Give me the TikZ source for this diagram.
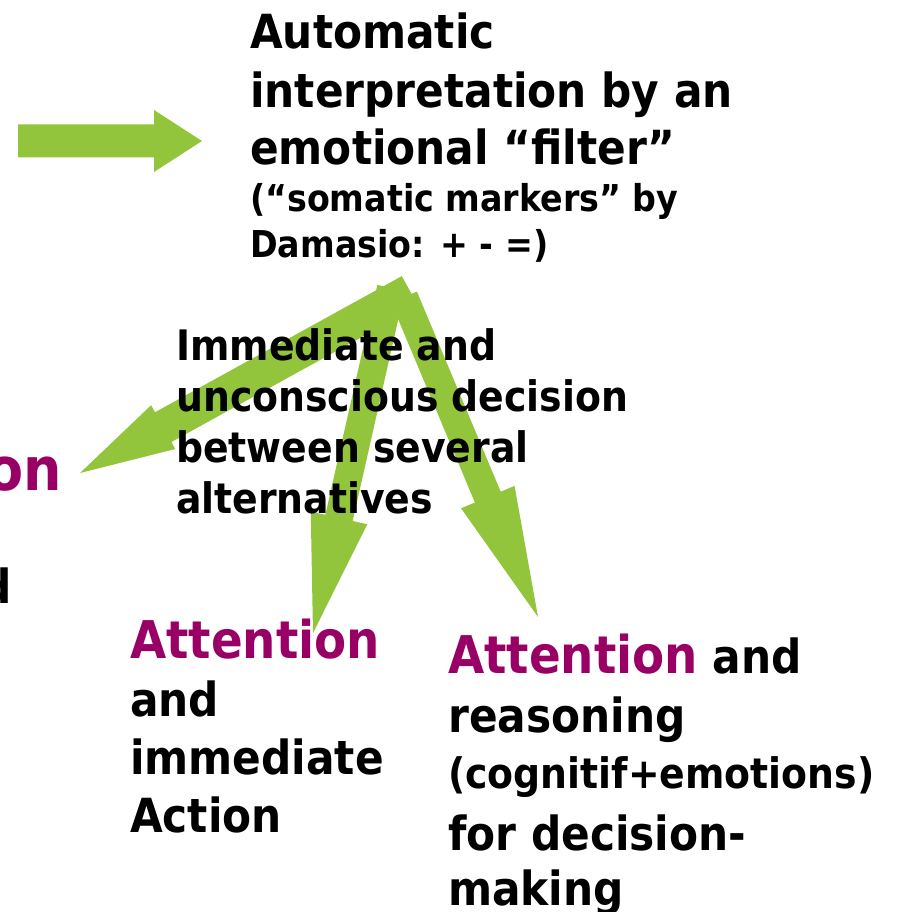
\documentclass[tikz,border=0pt]{standalone}
\usepackage{fontspec}
\setmainfont{DejaVu Sans Condensed}[BoldFont={DejaVu Sans Condensed Bold}]
\usetikzlibrary{calc}

\definecolor{leafgreen}{RGB}{146,196,60}
\definecolor{plum}{RGB}{153,0,102}

% highlighted keyword, a bit larger than the body text
\newcommand\attn[1]{{\color{plum}\fontsize{52}{58}\selectfont #1}}

% anchored at the baseline of the last line
\tikzset{
  label/.style={inner sep=0pt, align=left, anchor=base west},
  big/.style={font=\bfseries\fontsize{47}{58}\selectfont},
  mid/.style={font=\bfseries\fontsize{42}{51}\selectfont},
  small/.style={font=\bfseries\fontsize{37}{46}\selectfont},
}

\begin{document}
\begin{tikzpicture}[x=1pt,y=-1pt]
      \useasboundingbox (0,0) rectangle (901,912);
      \clip (0,0) rectangle (901,912);

      % start and tip of every fat arrow
      \coordinate (top-s) at (18,141);    \coordinate (top-t) at (202,141);
      \coordinate (left-s) at (410,291);  \coordinate (left-t) at (80,473);
      \coordinate (mid-s) at (391,288);   \coordinate (mid-t) at (313,633);
      \coordinate (right-s) at (404,297); \coordinate (right-t) at (538,617);

      \foreach \a/\w/\hw/\hl in {top/33/62/48, left/34/50/95, mid/28/58/118, right/28/58/130} {
          \pgfmathsetmacro\sw{\w/2}
          \pgfmathsetmacro\hh{\hw/2}
          \coordinate (b) at ($(\a-t)!\hl pt!(\a-s)$);
          \fill[leafgreen] ($(\a-s)!\sw pt!90:(\a-t)$) -- ($(b)!\sw pt!-90:(\a-s)$)
            -- ($(b)!\hh pt!-90:(\a-s)$) -- (\a-t) -- ($(b)!\hh pt!90:(\a-s)$)
            -- ($(b)!\sw pt!90:(\a-s)$) -- ($(\a-s)!\sw pt!-90:(\a-t)$) -- cycle;
        }

      \node[label,big] (filter) at (250,165) {Automatic\\interpretation by an\\emotional “filter”};
      \node[label,small] (somatic) at (250,257) {(“somatic markers” by\\Damasio: + - =)};
      \node[label,mid] (choice) at (176,513) {Immediate and\\unconscious decision\\between several\\alternatives};
      \node[label,big] (action) at (130,832) {\attn{Attention}\\and\\immediate\\Action};
      \node[label,big,font=\bfseries\fontsize{47}{59}\selectfont] (reason) at (448,732) {\attn{Attention} and\\reasoning};
      \node[label,mid] (mixed) at (448,788) {(cognitif+emotions)};
      \node[label,big,font=\bfseries\fontsize{47}{55}\selectfont] (decide) at (448,905) {for decision-\\making};

      % words running off the left edge
      \node[inner sep=0pt,anchor=base east,font=\bfseries\fontsize{60}{70}\selectfont,text=plum] (cutoff) at (62,490) {on};
      \node[inner sep=0pt,anchor=base east,big] (cutand) at (12,603) {d};
    \end{tikzpicture}
\end{document}
